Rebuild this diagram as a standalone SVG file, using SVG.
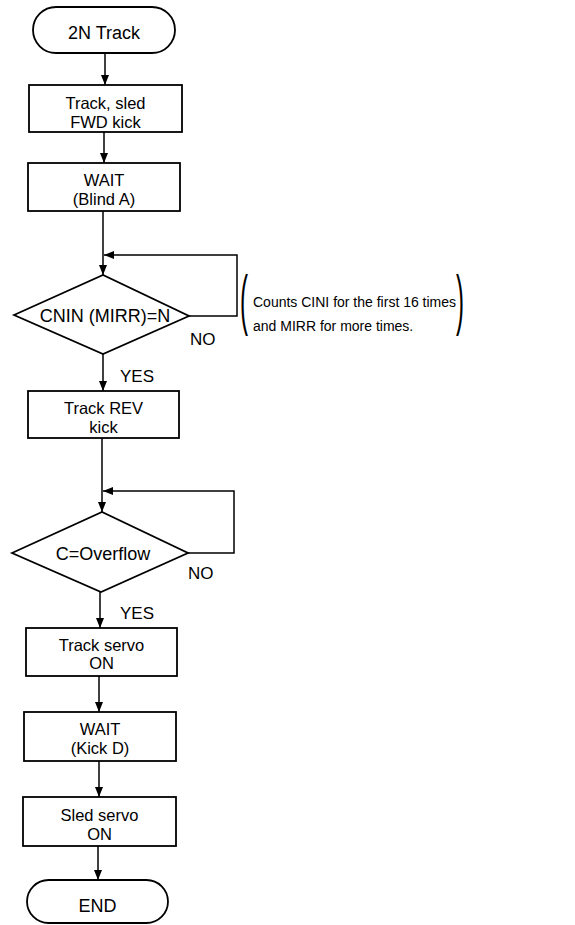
<svg xmlns="http://www.w3.org/2000/svg" width="575" height="925" viewBox="0 0 575 925">
<style>
.shape{fill:#fff;stroke:#000;stroke-width:1.8}
.line{fill:none;stroke:#000;stroke-width:1.5}
.t{font-family:"Liberation Sans",Arial,sans-serif;font-size:18px;fill:#000;text-anchor:middle}
.t2{font-family:"Liberation Sans",Arial,sans-serif;font-size:16.5px;fill:#000;text-anchor:middle}
.lbl{font-family:"Liberation Sans",Arial,sans-serif;font-size:17px;fill:#000}
.note{font-family:"Liberation Sans",Arial,sans-serif;font-size:14px;fill:#000}
.paren{font-family:"Liberation Sans",Arial,sans-serif;font-size:24px;fill:#000}
</style>
<defs>
<marker id="arr" viewBox="0 0 10 10" refX="10" refY="5" markerWidth="10" markerHeight="10" markerUnits="userSpaceOnUse" orient="auto">
<path d="M0,1 L10,5 L0,9 Z" fill="#000"/>
</marker>
</defs>
<rect width="575" height="925" fill="#fff"/>
<g id="connectors">
<path class="line" d="M105,53 V85" marker-end="url(#arr)"/>
<path class="line" d="M104,132 V163" marker-end="url(#arr)"/>
<path class="line" d="M103,211 V275" marker-end="url(#arr)"/>
<path class="line" d="M189,316 H237 V255 H104" marker-end="url(#arr)"/>
<path class="line" d="M103,354 V391" marker-end="url(#arr)"/>
<path class="line" d="M102,438 V512" marker-end="url(#arr)"/>
<path class="line" d="M188,553 H234 V491 H103" marker-end="url(#arr)"/>
<path class="line" d="M100,592 V628" marker-end="url(#arr)"/>
<path class="line" d="M99,676 V712" marker-end="url(#arr)"/>
<path class="line" d="M99,761 V797" marker-end="url(#arr)"/>
<path class="line" d="M98,846 V880" marker-end="url(#arr)"/>
</g>
<g id="start">
<rect class="shape" x="33" y="7" width="142" height="46" rx="23" ry="23"/>
<text class="t" x="104" y="38.5">2N Track</text>
</g>
<g id="fwd-kick">
<rect class="shape" x="29" y="85" width="153" height="47"/>
<text class="t2" x="105.5" y="109">Track, sled</text>
<text class="t2" x="105.5" y="127.5">FWD kick</text>
</g>
<g id="wait-blind">
<rect class="shape" x="28" y="163" width="152" height="48"/>
<text class="t2" x="104" y="186">WAIT</text>
<text class="t2" x="104" y="204.5">(Blind A)</text>
</g>
<g id="cnin-check">
<polygon class="shape" points="14,315 103,275 189,316 103,354"/>
<text class="t" x="105" y="321.5">CNIN (MIRR)=N</text>
<text class="lbl" x="190" y="345">NO</text>
<text class="lbl" x="120" y="382">YES</text>
</g>
<g id="note">
<text class="paren" transform="translate(240,322) scale(1,2.75)">(</text>
<text class="note" x="253" y="307">Counts CINI for the first 16 times</text>
<text class="note" x="253" y="331">and MIRR for more times.</text>
<text class="paren" transform="translate(456,322) scale(1,2.75)">)</text>
</g>
<g id="rev-kick">
<rect class="shape" x="28" y="391" width="151" height="47"/>
<text class="t2" x="103.5" y="414">Track REV</text>
<text class="t2" x="103.5" y="432.5">kick</text>
</g>
<g id="overflow-check">
<polygon class="shape" points="12,553 102,512 188,553 101,592"/>
<text class="t" x="103" y="559.5">C=Overflow</text>
<text class="lbl" x="188" y="579">NO</text>
<text class="lbl" x="120" y="618.5">YES</text>
</g>
<g id="track-servo">
<rect class="shape" x="26" y="628" width="151" height="48"/>
<text class="t2" x="101.5" y="650.5">Track servo</text>
<text class="t2" x="101.5" y="669">ON</text>
</g>
<g id="wait-kick">
<rect class="shape" x="24" y="712" width="152" height="49"/>
<text class="t2" x="100" y="735">WAIT</text>
<text class="t2" x="100" y="753.5">(Kick D)</text>
</g>
<g id="sled-servo">
<rect class="shape" x="23" y="797" width="153" height="49"/>
<text class="t2" x="99.5" y="821">Sled servo</text>
<text class="t2" x="99.5" y="839.5">ON</text>
</g>
<g id="end">
<rect class="shape" x="27" y="880" width="141" height="43" rx="21.5" ry="21.5"/>
<text class="t" x="97.5" y="912">END</text>
</g>
</svg>
